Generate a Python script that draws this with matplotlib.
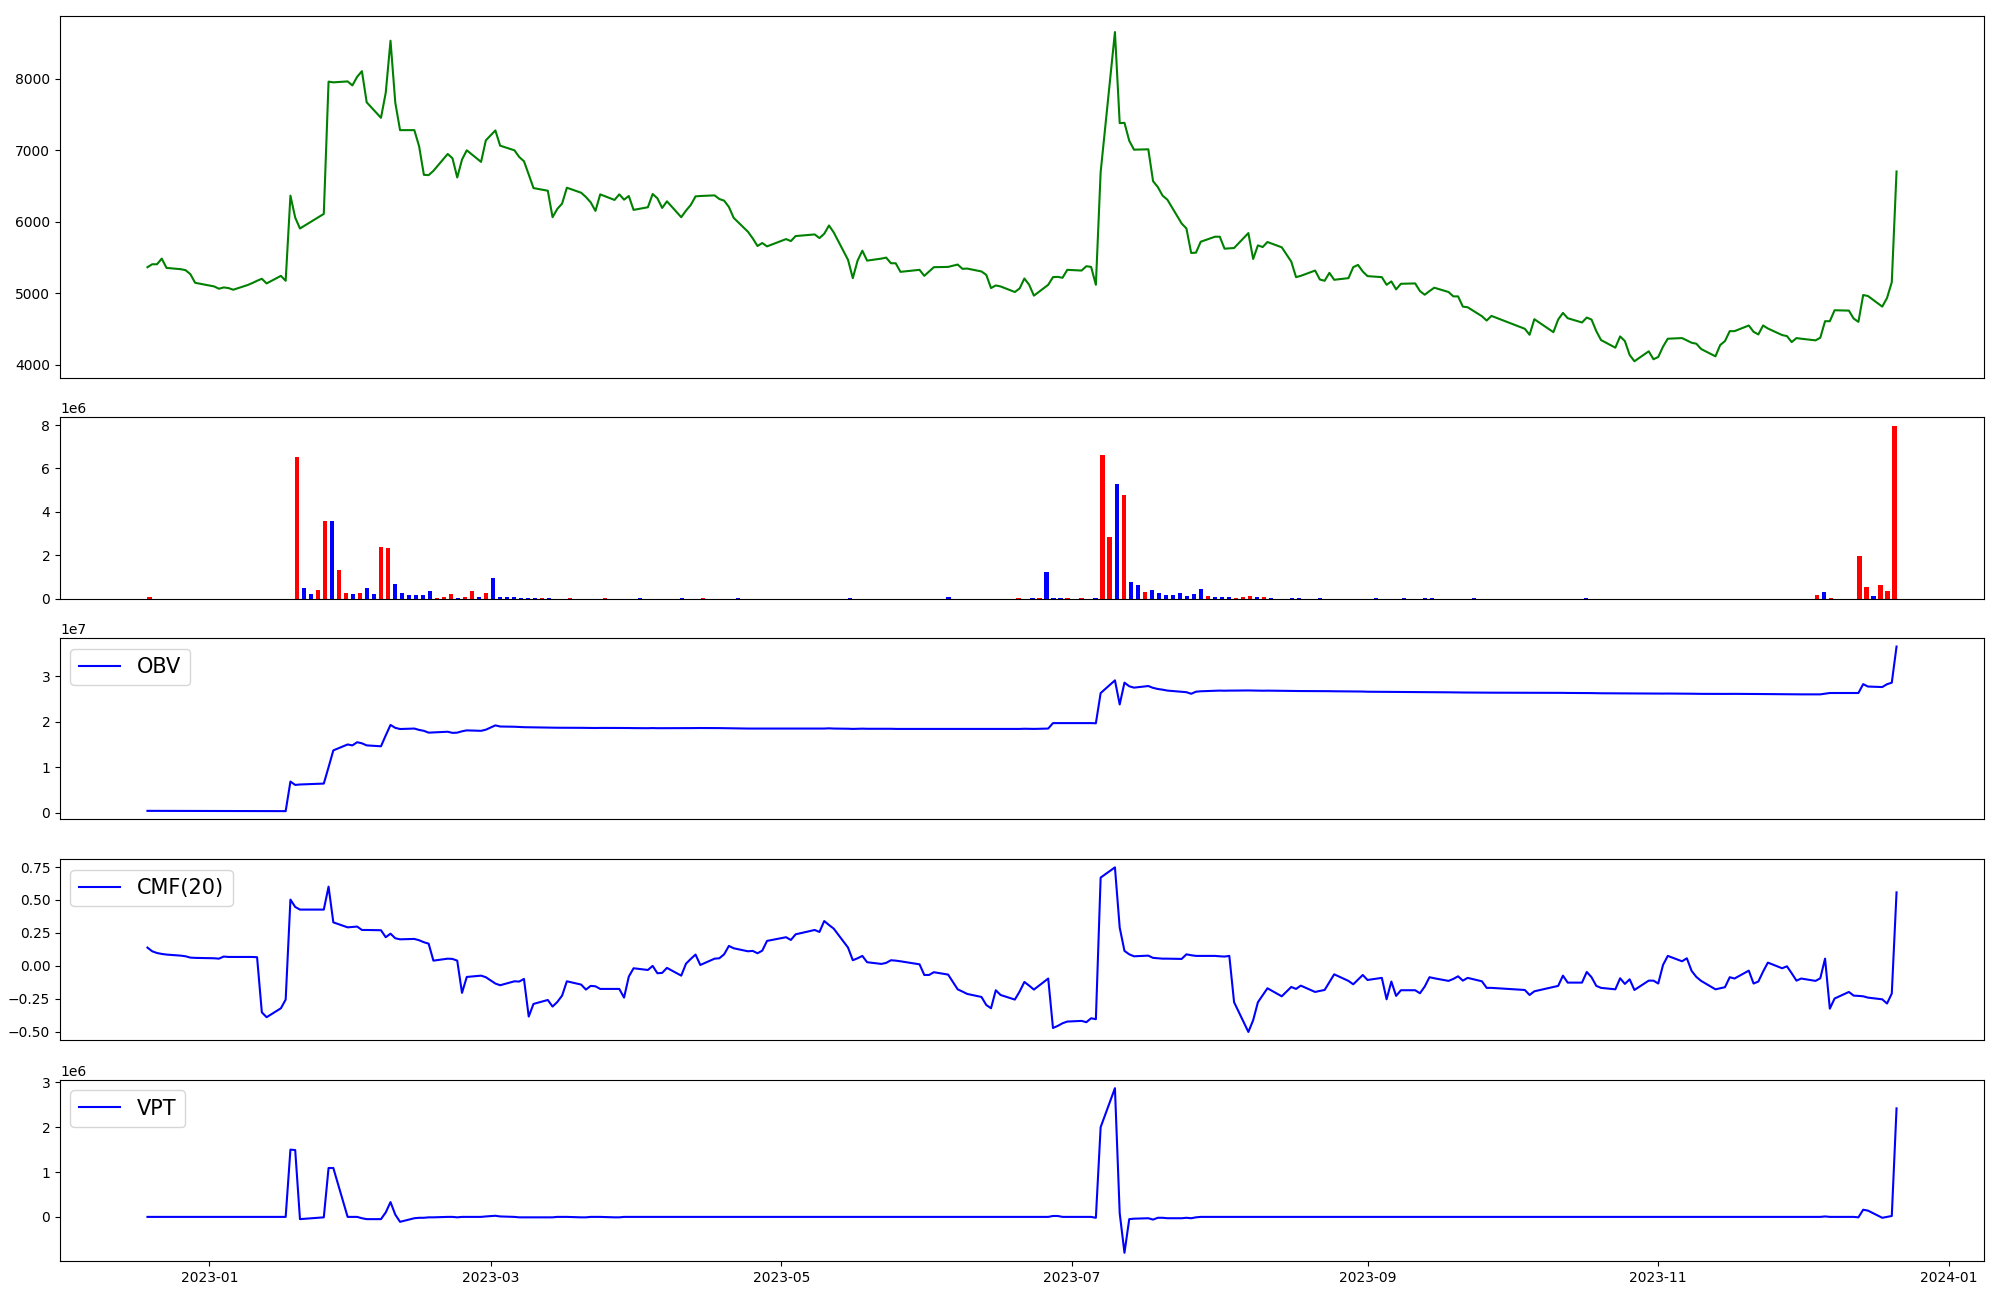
import numpy as np
import pandas as pd
import matplotlib
matplotlib.use("Agg")
import matplotlib.pyplot as plt

# trading calendar (KRX) 2022-12-19 .. 2023-12-21
holidays = ["2022-12-30", "2023-01-23", "2023-01-24", "2023-03-01", "2023-05-01",
            "2023-05-05", "2023-05-29", "2023-06-06", "2023-08-15", "2023-09-28",
            "2023-09-29", "2023-10-02", "2023-10-03", "2023-10-09"]
dates = pd.bdate_range("2022-12-19", "2023-12-21").difference(pd.to_datetime(holidays))

close = [
    # 2022-12
    5366, 5407, 5407, 5486, 5356, 5338, 5324, 5269, 5148,
    # 2023-01
    5097, 5065, 5083, 5074, 5051, 5116, 5144, 5176, 5204, 5139, 5245, 5176, 6366, 6060, 5907,
    6111, 7960, 7950, 7963, 7907,
    # 02
    8028, 8106, 7671, 7454, 7806, 8532, 7667, 7282, 7282, 7056, 6657, 6653, 6713, 6949, 6889,
    6620, 6870, 7000, 6838, 7139,
    # 03
    7278, 7065, 7000, 6907, 6847, 6662, 6472, 6435, 6065, 6181, 6255, 6477, 6407, 6347, 6273,
    6153, 6384, 6306, 6384, 6310, 6361, 6167,
    # 04
    6204, 6389, 6329, 6194, 6287, 6065, 6157, 6236, 6356, 6361, 6370, 6319, 6296, 6208, 6056,
    5861, 5769, 5662, 5704, 5657,
    # 05
    5759, 5731, 5801, 5824, 5773, 5833, 5949, 5852, 5468, 5213, 5458, 5597, 5458, 5486, 5500,
    5421, 5421, 5301, 5329, 5245,
    # 06
    5306, 5366, 5370, 5403, 5343, 5347, 5306, 5259, 5074, 5111, 5097, 5019, 5069, 5208, 5120,
    4968, 5120, 5227, 5231, 5218, 5329,
    # 07
    5319, 5380, 5370, 5120, 6694, 8653, 7380, 7384, 7134, 7009, 7014, 6569, 6486, 6366, 6310,
    5977, 5907, 5565, 5569, 5722, 5792,
    # 08
    5792, 5625, 5630, 5634, 5843, 5481, 5671, 5648, 5718, 5644, 5444, 5227, 5245, 5319, 5194,
    5176, 5287, 5190, 5213, 5366, 5398, 5306,
    # 09
    5241, 5227, 5120, 5167, 5056, 5134, 5139, 5032, 4981, 5032, 5079, 5019, 4958, 4958, 4815,
    4806, 4681, 4620, 4685,
    # 10
    4505, 4421, 4639, 4458, 4634, 4727, 4653, 4593, 4662, 4634, 4472, 4347, 4241, 4398, 4333,
    4139, 4051, 4190, 4079,
    # 11
    4111, 4255, 4366, 4375, 4343, 4310, 4296, 4222, 4120, 4278, 4333, 4472, 4472, 4551, 4463,
    4426, 4551, 4509, 4417, 4403, 4319, 4375,
    # 12
    4366, 4343, 4380, 4611, 4611, 4764, 4759, 4648, 4602, 4977, 4963, 4815, 4935, 5157, 6704,
]

# volume: only the days that traded (trading-day number, shares, up day?)
vol_idx = [0, 21, 22, 23, 24, 25, 26, 27, 28, 29, 30, 31, 32, 33, 34, 35, 36, 37, 38, 39,
           40, 41, 42, 43, 44, 45, 46, 47, 48, 49, 50, 51, 52, 53, 54, 55, 56, 57, 60, 65,
           70, 76, 79, 84, 100, 114, 124, 126, 127, 128, 129, 130, 131, 133, 135, 136, 137,
           138, 139, 140, 141, 142, 143, 144, 145, 146, 147, 148, 149, 150, 151, 152, 153,
           154, 155, 156, 157, 158, 159, 160, 163, 164, 167, 175, 179, 182, 183, 189, 205,
           238, 239, 240, 244, 245, 246, 247, 248, 249]
vol_val = [0.08, 6.52, 0.48, 0.20, 0.38, 3.57, 3.57, 1.31, 0.25, 0.20, 0.25, 0.48, 0.20, 2.37,
           2.32, 0.66, 0.25, 0.15, 0.15, 0.15, 0.34, 0.03, 0.06, 0.20, 0.03, 0.06, 0.34, 0.06,
           0.25, 0.94, 0.06, 0.06, 0.06, 0.03, 0.03, 0.03, 0.03, 0.03, 0.03, 0.03, 0.03, 0.03,
           0.03, 0.03, 0.03, 0.06, 0.03, 0.03, 0.03, 1.22, 0.03, 0.03, 0.03, 0.03, 0.03, 6.60,
           2.83, 5.28, 4.77, 0.75, 0.62, 0.29, 0.38, 0.25, 0.15, 0.15, 0.25, 0.11, 0.20, 0.43,
           0.11, 0.06, 0.06, 0.06, 0.03, 0.06, 0.11, 0.06, 0.06, 0.03, 0.03, 0.03, 0.03, 0.03,
           0.03, 0.03, 0.03, 0.03, 0.03, 0.15, 0.29, 0.03, 1.95, 0.52, 0.11, 0.62, 0.34, 7.95]
vol_up = [1, 1, 0, 0, 1, 1, 0, 1, 1, 0, 1, 0, 0, 1, 1, 0, 0, 0, 0, 0,
          0, 1, 1, 1, 0, 1, 1, 0, 1, 0, 0, 0, 0, 0, 0, 0, 1, 0, 1, 1,
          0, 0, 1, 0, 0, 0, 1, 0, 1, 0, 0, 0, 1, 1, 0, 1, 1,
          0, 1, 0, 0, 1, 0, 0, 0, 0, 0, 0, 0, 0, 1, 0, 0,
          0, 1, 1, 1, 0, 1, 0, 0, 0, 0, 0, 0, 0, 0, 0, 0,
          1, 0, 1, 1, 1, 0, 1, 1, 1]

# OBV, units of 1e7
obv = [
    0.040, 0.040, 0.040, 0.039, 0.039, 0.039, 0.038, 0.038, 0.038,
    0.037, 0.037, 0.037, 0.036, 0.036, 0.036, 0.035, 0.035, 0.035, 0.035, 0.034, 0.034,
    0.685, 0.610, 0.620, 0.640, 1.000, 1.370, 1.500, 1.480,
    1.550, 1.525, 1.480, 1.460, 1.700, 1.930, 1.865, 1.840, 1.850, 1.820, 1.800, 1.760, 1.765,
    1.780, 1.755, 1.760, 1.790, 1.810, 1.800, 1.825,
    1.920, 1.895, 1.890, 1.885, 1.880, 1.878, 1.875, 1.872, 1.870, 1.868, 1.868, 1.870, 1.866,
    1.864, 1.862, 1.862, 1.864, 1.864, 1.866, 1.862, 1.862, 1.860,
    1.858, 1.861, 1.858, 1.858, 1.858, 1.856, 1.858, 1.860, 1.862, 1.862, 1.862, 1.860, 1.858,
    1.856, 1.853, 1.850, 1.850, 1.850, 1.850, 1.850,
    1.850, 1.850, 1.850, 1.852, 1.850, 1.850, 1.855, 1.850, 1.846, 1.842, 1.845, 1.848, 1.845,
    1.845, 1.845, 1.845, 1.842, 1.842, 1.842, 1.840,
    1.840, 1.840, 1.840, 1.844, 1.842, 1.842, 1.842, 1.842, 1.840, 1.842, 1.842, 1.842, 1.842,
    1.846, 1.844, 1.842, 1.850, 1.970, 1.970, 1.968, 1.968,
    1.968, 1.970, 1.970, 1.966, 2.630, 2.910, 2.380, 2.860, 2.780, 2.750, 2.785, 2.745, 2.720,
    2.705, 2.685, 2.660, 2.650, 2.615, 2.660, 2.670, 2.680,
    2.685, 2.682, 2.685, 2.685, 2.688, 2.685, 2.684, 2.682, 2.684, 2.680, 2.676, 2.674, 2.675,
    2.674, 2.672, 2.671, 2.672, 2.670, 2.668, 2.668, 2.667, 2.664,
    2.660, 2.658, 2.656, 2.657, 2.655, 2.654, 2.652, 2.651, 2.650, 2.650, 2.649, 2.647, 2.645,
    2.645, 2.643, 2.642, 2.640, 2.638, 2.639,
    2.638, 2.637, 2.638, 2.636, 2.636, 2.635, 2.633, 2.632, 2.632, 2.630, 2.628, 2.626, 2.624,
    2.625, 2.623, 2.621, 2.619, 2.620, 2.618,
    2.618, 2.619, 2.620, 2.619, 2.617, 2.616, 2.614, 2.613, 2.611, 2.612, 2.612, 2.613, 2.613,
    2.612, 2.610, 2.609, 2.609, 2.608, 2.606, 2.605, 2.603, 2.603,
    2.602, 2.602, 2.602, 2.617, 2.632, 2.632, 2.632, 2.632, 2.632, 2.827, 2.774, 2.763, 2.825,
    2.859, 3.654,
]

# CMF(20)
cmf = [
    0.138, 0.110, 0.097, 0.090, 0.085, 0.077, 0.072, 0.062, 0.060,
    0.057, 0.054, 0.070, 0.067, 0.067, 0.067, 0.067, 0.065, -0.354, -0.391, -0.323, -0.257,
    0.503, 0.447, 0.427, 0.427, 0.601, 0.330, 0.292, 0.295,
    0.298, 0.272, 0.272, 0.270, 0.217, 0.244, 0.209, 0.201, 0.204, 0.194, 0.179, 0.168, 0.039,
    0.054, 0.052, 0.039, -0.206, -0.085, -0.075, -0.087,
    -0.135, -0.148, -0.118, -0.120, -0.100, -0.386, -0.290, -0.260, -0.310, -0.275, -0.227,
    -0.118, -0.143, -0.181, -0.153, -0.156, -0.176, -0.176, -0.176, -0.242, -0.082, -0.019,
    -0.032, -0.001, -0.057, -0.054, -0.016, -0.075, 0.016, 0.052, 0.085, 0.006, 0.054, 0.057,
    0.087, 0.151, 0.133, 0.110, 0.113, 0.095, 0.115, 0.189,
    0.217, 0.196, 0.239, 0.272, 0.257, 0.340, 0.310, 0.282, 0.138, 0.042, 0.057, 0.075, 0.027,
    0.014, 0.022, 0.042, 0.039, 0.034, 0.011, -0.070,
    -0.070, -0.049, -0.067, -0.179, -0.196, -0.214, -0.237, -0.298, -0.323, -0.186, -0.222,
    -0.257, -0.196, -0.123, -0.151, -0.181, -0.097, -0.473, -0.457, -0.437, -0.424,
    -0.419, -0.429, -0.399, -0.406, 0.670, 0.748, 0.290, 0.113, 0.087, 0.072, 0.077, 0.060,
    0.057, 0.054, 0.054, 0.052, 0.087, 0.080, 0.075, 0.075, 0.075,
    0.072, 0.070, 0.075, -0.277, -0.503, -0.414, -0.277, -0.224, -0.171, -0.232, -0.161,
    -0.176, -0.151, -0.199, -0.191, -0.184, -0.125, -0.065, -0.115, -0.141, -0.105, -0.070,
    -0.108, -0.092, -0.255, -0.120, -0.229, -0.186, -0.186, -0.209, -0.158, -0.087, -0.095,
    -0.115, -0.100, -0.080, -0.113, -0.092, -0.118, -0.168, -0.168,
    -0.184, -0.222, -0.194, -0.161, -0.153, -0.075, -0.128, -0.128, -0.047, -0.087, -0.153,
    -0.168, -0.179, -0.095, -0.138, -0.103, -0.184, -0.113, -0.113,
    -0.135, 0.006, 0.075, 0.034, 0.057, -0.039, -0.085, -0.115, -0.179, -0.171, -0.163,
    -0.087, -0.097, -0.037, -0.135, -0.120, -0.044, 0.024, -0.019, -0.004, -0.057, -0.113,
    -0.097, -0.115, -0.095, 0.054, -0.326, -0.249, -0.199, -0.227, -0.229, -0.232, -0.242,
    -0.255, -0.287, -0.211, 0.558,
]

# VPT, units of 1e6
vpt = [
    0.00, 0.00, 0.00, 0.00, 0.00, 0.00, 0.00, 0.00, 0.00,
    0.00, 0.00, 0.00, 0.00, 0.00, 0.00, 0.00, 0.00, 0.00, 0.00, 0.00, 0.00,
    1.50, 1.49, -0.05, -0.01, 1.09, 1.09, 0.00, 0.00,
    0.00, -0.03, -0.05, -0.05, 0.10, 0.33, 0.05, -0.11, -0.03, -0.02, -0.02, -0.01, -0.01,
    0.00, 0.00, -0.01, 0.00, 0.00, 0.00, 0.01,
    0.025, 0.01, 0.00, -0.01, -0.01, -0.01, -0.01, -0.01, -0.01, 0.00, 0.00, 0.00, -0.01,
    -0.01, 0.00, 0.00, 0.00, -0.01, -0.01, 0.00, 0.00, 0.00,
    0.00, 0.00, 0.00, 0.00, 0.00, 0.00, 0.00, 0.00, 0.00, 0.00, 0.00, 0.00, 0.00,
    0.00, 0.00, 0.00, 0.00, 0.00, 0.00, 0.00,
    0.00, 0.00, 0.00, 0.00, 0.00, 0.00, 0.00, 0.00, 0.00, 0.00, 0.00, 0.00, 0.00,
    0.00, 0.00, 0.00, 0.00, 0.00, 0.00, 0.00,
    0.00, 0.00, 0.00, 0.00, 0.00, 0.00, 0.00, 0.00, 0.00, 0.00, 0.00, 0.00, 0.00,
    0.00, 0.00, 0.00, 0.00, 0.02, 0.02, 0.00, 0.00,
    0.00, 0.00, 0.00, -0.02, 2.00, 2.87, 0.08, -0.80, -0.05, -0.04, -0.03, -0.06, -0.02,
    -0.02, -0.03, -0.03, -0.02, -0.03, -0.01, 0.00, 0.00,
    0.00, 0.00, 0.00, 0.00, 0.00, 0.00, 0.00, 0.00, 0.00, 0.00, 0.00, 0.00, 0.00,
    0.00, 0.00, 0.00, 0.00, 0.00, 0.00, 0.00, 0.00, 0.00,
    0.00, 0.00, 0.00, 0.00, 0.00, 0.00, 0.00, 0.00, 0.00, 0.00, 0.00, 0.00, 0.00,
    0.00, 0.00, 0.00, 0.00, 0.00, 0.00,
    0.00, 0.00, 0.00, 0.00, 0.00, 0.00, 0.00, 0.00, 0.00, 0.00, 0.00, 0.00, 0.00,
    0.00, 0.00, 0.00, 0.00, 0.00, 0.00,
    0.00, 0.00, 0.00, 0.00, 0.00, 0.00, 0.00, 0.00, 0.00, 0.00, 0.00, 0.00, 0.00,
    0.00, 0.00, 0.00, 0.00, 0.00, 0.00, 0.00, 0.00, 0.00,
    0.00, 0.00, 0.00, 0.01, 0.00, 0.00, 0.00, 0.00, -0.01, 0.16, 0.14, -0.02, 0.00,
    0.02, 2.42,
]

n = len(dates)
volume = np.zeros(n)
volume[vol_idx] = np.array(vol_val) * 1e6
bar_col = np.array(["blue"] * n, dtype=object)
bar_col[[i for i, u in zip(vol_idx, vol_up) if u]] = "red"

fig = plt.figure(figsize=(20, 13), dpi=100)
gs = fig.add_gridspec(5, 1, height_ratios=[2, 1, 1, 1, 1], left=0.030, right=0.992,
                      top=0.988, bottom=0.030, hspace=0.183)
ax1 = fig.add_subplot(gs[0])
ax2 = fig.add_subplot(gs[1])
ax3 = fig.add_subplot(gs[2], sharex=ax1)
ax4 = fig.add_subplot(gs[3], sharex=ax1)
ax5 = fig.add_subplot(gs[4], sharex=ax1)

ax1.plot(dates, close, color="green")

ax2.bar(np.arange(n), volume, width=0.6, color=list(bar_col))

ax3.plot(dates, np.array(obv) * 1e7, color="blue", label="OBV")
ax3.legend(loc="upper left", fontsize=15)

ax4.plot(dates, cmf, color="blue", label="CMF(20)")
ax4.legend(loc="upper left", fontsize=15)

ax5.plot(dates, np.array(vpt) * 1e6, color="blue", label="VPT")
ax5.legend(loc="upper left", fontsize=15)

for ax in [ax1, ax2, ax3, ax4]:
    ax.tick_params(axis="x", bottom=False, labelbottom=False)

fig.savefig("out.png")
